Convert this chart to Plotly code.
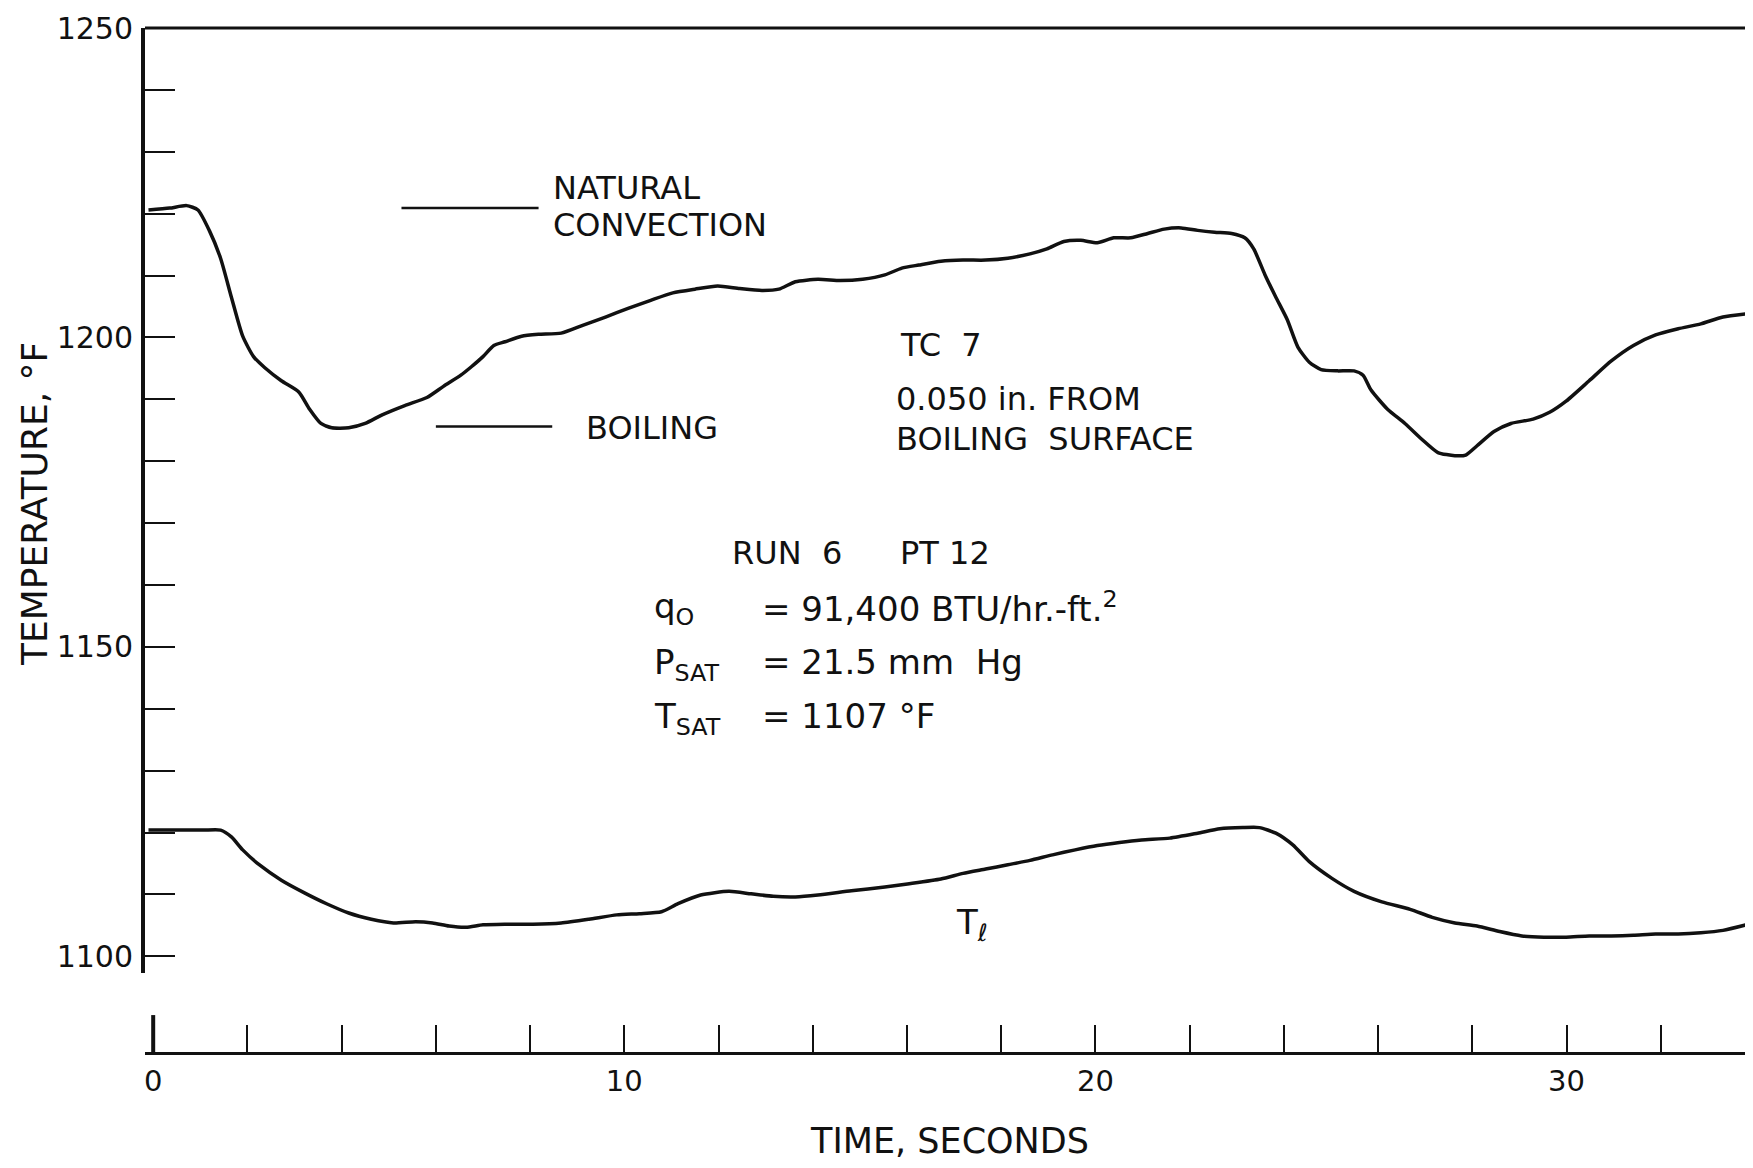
import plotly.graph_objects as go

# ---- data ----
time_tc7 = [-0.1, 0.35, 0.71, 0.95, 1.19, 1.43, 1.66, 1.90, 2.13, 2.37, 2.72, 3.09, 3.32, 3.56, 3.79,
            4.15, 4.50, 4.86, 5.34, 5.81, 6.16, 6.53, 6.76, 7.00, 7.23, 7.47, 7.82, 8.18, 8.66, 9.13,
            9.60, 10.08, 10.56, 11.03, 11.50, 11.98, 12.45, 12.92, 13.28, 13.63, 14.11, 14.58, 15.06,
            15.53, 15.89, 16.25, 16.72, 17.19, 17.67, 18.14, 18.61, 18.97, 19.33, 19.69, 20.04, 20.39,
            20.75, 21.11, 21.46, 21.82, 22.17, 22.53, 22.89, 23.17, 23.36, 23.60, 23.83, 24.07, 24.30,
            24.54, 24.79, 25.14, 25.49, 25.68, 25.85, 26.20, 26.57, 26.92, 27.27, 27.63, 27.86, 28.10,
            28.46, 28.82, 29.29, 29.64, 29.99, 30.48, 30.95, 31.42, 31.89, 32.37, 32.85, 33.32, 33.92]
temp_tc7 = [1220.6, 1220.9, 1221.3, 1220.6, 1217.3, 1212.8, 1206.5, 1200.2, 1196.9, 1195.1, 1193.0,
            1191.2, 1188.4, 1186.1, 1185.4, 1185.4, 1186.1, 1187.5, 1189.0, 1190.3, 1192.1, 1193.9,
            1195.3, 1196.9, 1198.7, 1199.3, 1200.2, 1200.5, 1200.7, 1202.0, 1203.3, 1204.7, 1206.0,
            1207.2, 1207.8, 1208.3, 1207.9, 1207.6, 1207.8, 1209.0, 1209.4, 1209.2, 1209.4, 1210.1,
            1211.2, 1211.7, 1212.3, 1212.5, 1212.5, 1212.8, 1213.5, 1214.3, 1215.5, 1215.7, 1215.3,
            1216.1, 1216.1, 1216.8, 1217.5, 1217.7, 1217.3, 1217.0, 1216.8, 1216.1, 1214.3, 1210.1,
            1206.5, 1202.9, 1198.4, 1196.0, 1194.8, 1194.6, 1194.6, 1193.9, 1191.5, 1188.4, 1186.1,
            1183.6, 1181.4, 1180.9, 1181.0, 1182.5, 1184.8, 1186.1, 1186.8, 1187.9, 1189.7, 1193.0,
            1196.2, 1198.7, 1200.4, 1201.4, 1202.2, 1203.3, 1203.9]

time_liq = [-0.1, 0.59, 1.07, 1.43, 1.66, 1.90, 2.25, 2.72, 3.20, 3.68, 4.15, 4.63, 5.10, 5.57, 5.93,
            6.28, 6.64, 7.00, 7.47, 8.06, 8.66, 9.25, 9.84, 10.32, 10.79, 11.14, 11.62, 12.22, 12.69,
            13.16, 13.63, 14.11, 14.82, 15.53, 16.01, 16.72, 17.19, 17.67, 18.14, 18.61, 19.09, 19.57,
            20.04, 20.51, 20.98, 21.58, 22.17, 22.64, 23.13, 23.48, 23.83, 24.19, 24.54, 25.02, 25.49,
            26.08, 26.68, 27.15, 27.63, 28.10, 28.58, 29.05, 29.52, 29.99, 30.48, 30.95, 31.42, 31.89,
            32.37, 32.85, 33.32, 33.92]
temp_liq = [1120.4, 1120.4, 1120.4, 1120.4, 1119.3, 1117.2, 1114.8, 1112.3, 1110.3, 1108.5, 1107.0,
            1106.0, 1105.4, 1105.6, 1105.4, 1104.9, 1104.7, 1105.1, 1105.2, 1105.2, 1105.4, 1106.0,
            1106.7, 1106.9, 1107.2, 1108.5, 1109.9, 1110.5, 1110.1, 1109.7, 1109.6, 1109.9, 1110.6,
            1111.2, 1111.7, 1112.5, 1113.4, 1114.1, 1114.8, 1115.5, 1116.4, 1117.2, 1117.9, 1118.4,
            1118.8, 1119.1, 1119.9, 1120.6, 1120.8, 1120.8, 1119.9, 1118.0, 1115.3, 1112.6, 1110.5,
            1108.8, 1107.6, 1106.3, 1105.4, 1104.9, 1104.0, 1103.3, 1103.1, 1103.1, 1103.3, 1103.3,
            1103.4, 1103.6, 1103.6, 1103.8, 1104.2, 1105.3]

x_tickvals = list(range(0, 33, 2))
x_ticktext = [str(v) if v % 10 == 0 else "" for v in x_tickvals]
y_tickvals = list(range(1100, 1251, 10))
y_ticktext = [str(v) if v % 50 == 0 else "" for v in y_tickvals]

FONT = "DejaVu Sans, Liberation Sans, sans-serif"
INK = "#111111"

fig = go.Figure()
fig.add_trace(go.Scatter(x=time_tc7, y=temp_tc7, mode="lines",
                         line=dict(color=INK, width=3.5, shape="spline", smoothing=0.6),
                         showlegend=False, hoverinfo="skip"))
fig.add_trace(go.Scatter(x=time_liq, y=temp_liq, mode="lines",
                         line=dict(color=INK, width=3.5, shape="spline", smoothing=0.6),
                         showlegend=False, hoverinfo="skip"))

fig.update_layout(
    width=1753, height=1168,
    margin=dict(l=137, r=6, t=20, b=123),
    paper_bgcolor="white", plot_bgcolor="white",
    font=dict(family=FONT, color=INK, size=30),
    xaxis=dict(
        range=[-0.174, 34.0], domain=[0, 1],
        anchor="free", position=0,
        showline=True, linecolor=INK, linewidth=3,
        ticks="inside", ticklen=27, tickwidth=2, tickcolor=INK,
        tickvals=x_tickvals, ticktext=x_ticktext,
        tickfont=dict(size=29), ticklabelstandoff=1,
        showgrid=False, zeroline=False,
        title=dict(text="TIME, SECONDS", font=dict(size=35), standoff=31),
        automargin=False,
    ),
    yaxis=dict(
        range=[1097.3, 1250], domain=[0.078, 1],
        showline=True, linecolor=INK, linewidth=4,
        ticks="inside", ticklen=30, tickwidth=2, tickcolor=INK,
        tickvals=y_tickvals, ticktext=y_ticktext,
        tickfont=dict(size=30), ticklabelstandoff=2,
        showgrid=False, zeroline=False,
        automargin=False,
    ),
)

# y-axis title placed as rotated text
fig.add_annotation(xref="paper", yref="paper", x=0, y=0.5356, xshift=-111,
                   text="TEMPERATURE, °F", textangle=-90, showarrow=False,
                   xanchor="center", yanchor="middle",
                   font=dict(size=36, family=FONT, color=INK))

# frame: top border, right border, left stub of the time axis
fig.add_shape(type="line", xref="paper", yref="paper", x0=0, x1=1, y0=1, y1=1,
              line=dict(color=INK, width=3))
fig.add_shape(type="line", xref="paper", yref="paper", x0=1, x1=1, y0=0, y1=1,
              line=dict(color=INK, width=2))
fig.add_shape(type="line", xref="x", yref="paper", x0=0, x1=0, y0=0, y1=0.037,
              line=dict(color=INK, width=4))

# regime marker lines
fig.add_shape(type="line", xref="x", yref="y", x0=5.27, x1=8.18, y0=1220.9, y1=1220.9,
              line=dict(color=INK, width=2.5))
fig.add_shape(type="line", xref="x", yref="y", x0=6.0, x1=8.47, y0=1185.6, y1=1185.6,
              line=dict(color=INK, width=2.5))

def note(x, y, text, size=32):
    fig.add_annotation(x=x, y=y, xref="x", yref="y", text=text, showarrow=False,
                       xanchor="left", yanchor="middle", align="left",
                       font=dict(size=size, family=FONT, color=INK))

note(8.45, 1224.2, "NATURAL")
note(8.45, 1218.2, "CONVECTION")
note(9.15, 1185.4, "BOILING")
note(15.80, 1198.7, "TC&nbsp;&nbsp;7")
note(15.73, 1190.1, "0.050 in. FROM")
note(15.73, 1183.6, "BOILING&nbsp;&nbsp;SURFACE")
note(12.25, 1165.2, "RUN&nbsp;&nbsp;6")
note(15.80, 1165.2, "PT&nbsp;12")
note(10.58, 1156.2, "q<sub>O</sub>", 34)
note(12.88, 1156.5, "=&nbsp;91,400&nbsp;BTU/hr.-ft.<sup>2</sup>", 34)
note(10.58, 1147.2, "P<sub>SAT</sub>", 34)
note(12.88, 1147.5, "=&nbsp;21.5 mm&nbsp;&nbsp;Hg", 34)
note(10.58, 1138.5, "T<sub>SAT</sub>", 34)
note(12.88, 1138.8, "=&nbsp;1107 °F", 34)
note(17.0, 1105.1, "T<sub><i>ℓ</i></sub>", 34)

fig.write_html("out.html")
